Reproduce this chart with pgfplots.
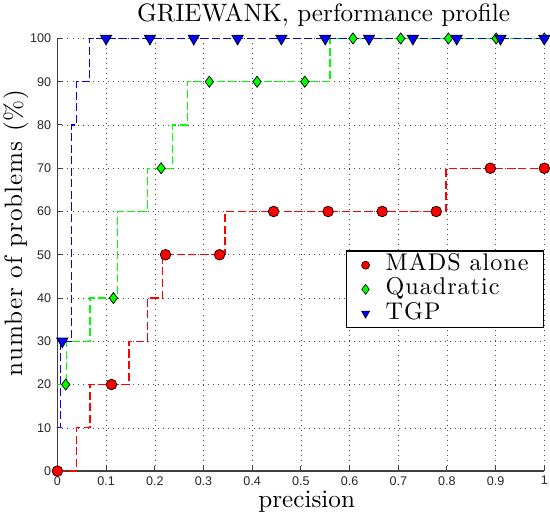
\documentclass[border=0pt]{standalone}
\usepackage{fontspec}
\setmainfont{lmroman10-regular.otf}
\newfontfamily\legfont{lmroman10-regular.otf}[LetterSpace=4]
\newfontfamily\tickfont{Liberation Sans}
\usepackage{pgfplots}
\pgfplotsset{compat=1.18}

\definecolor{axgray}{gray}{0.25}
\definecolor{mred}{rgb}{1,0,0}
\definecolor{mgreen}{rgb}{0,1,0}
\definecolor{mblue}{rgb}{0,0,1}

\pgfplotsset{
    stepline/.style={const plot, draw=#1, line width=1.2pt,
        dash pattern=on 8pt off 3.5pt, mark=none, forget plot},
}

\begin{document}
\begin{tikzpicture}
\begin{axis}[
    scale only axis,
    width=484pt,
    height=430pt,
    xmin=0, xmax=1,
    ymin=0, ymax=100,
    axis x line*=bottom,
    axis y line*=left,
    axis line style={line width=1.5pt, color=axgray},
    xtick={0,0.1,0.2,0.3,0.4,0.5,0.6,0.7,0.8,0.9,1},
    xticklabels={0,0.1,0.2,0.3,0.4,0.5,0.6,0.7,0.8,0.9,1},
    ytick={0,10,...,100},
    tick align=inside,
    major tick length=5pt,
    tick style={line width=1pt, color=axgray},
    /pgf/number format/assume math mode=true,
    ticklabel style={font=\tickfont\fontsize{12.5}{14}\selectfont, color=black!85, inner sep=0pt},
    xticklabel style={yshift=-5pt},
    yticklabel style={xshift=-6pt},
    grid=major,
    major grid style={black!70, line width=0.6pt, dash pattern=on 0.6pt off 4.4pt},
    title={GRIEWANK, performance profile},
    title style={at={(axis description cs:0.5465,1.0256)}, anchor=base, font=\fontsize{25}{28}\selectfont},
    xlabel={precision},
    xlabel style={at={(axis description cs:0.512,-0.085)}, anchor=base, font=\fontsize{25}{28}\selectfont},
    ylabel={number of problems (\%)},
    ylabel style={at={(axis description cs:-0.0723,0.551)}, anchor=base, rotate=0, font=\legfont\fontsize{25}{28}\selectfont},
    legend style={at={(axis description cs:1,0.51)}, anchor=north east, xshift=0pt,
        draw=black, line width=1.3pt, fill=white,
        inner xsep=15pt, inner ysep=3pt,
        column sep=16pt, row sep=2pt,
        font=\legfont\fontsize{24}{26}\selectfont,
        nodes={inner sep=0pt, text height=16.5pt, text depth=5.5pt}},
    legend cell align=left,
]
% step curves
\addplot[stepline=mred] coordinates {
    (0,0) (0.039,10) (0.067,20) (0.147,30) (0.185,40) (0.216,50) (0.344,60) (0.798,70) (1,70)};
\addplot[stepline=mgreen] coordinates {
    (0,20) (0.0186,30) (0.067,40) (0.123,60) (0.185,70) (0.237,80) (0.267,90) (0.56,100) (1,100)};
\addplot[stepline=mblue] coordinates {
    (0,10) (0.006,30) (0.029,80) (0.039,90) (0.066,100) (1,100)};
% markers
\addplot[only marks, mark=*, mark size=5.3pt, mark options={fill=mred, draw=black, line width=0.7pt, solid}, forget plot] coordinates {
    (0,0) (0.111,20) (0.222,50) (0.333,50) (0.444,60) (0.556,60) (0.667,60) (0.778,60) (0.889,70) (1,70)};
\addplot[only marks, mark=diamond*, mark size=5.5pt, mark options={fill=mgreen, draw=black, line width=0.7pt, solid}, forget plot] coordinates {
    (0.017,20) (0.115,40) (0.213,70) (0.312,90) (0.410,90) (0.508,90) (0.607,100) (0.705,100) (0.803,100) (0.901,100) (1,100)};
\addplot[only marks, mark=triangle*, mark size=6.5pt, mark options={rotate=180, fill=mblue, draw=black, line width=0.7pt, solid}, forget plot] coordinates {
    (0.01,30) (0.1,100) (0.19,100) (0.28,100) (0.37,100) (0.46,100) (0.55,100) (0.64,100) (0.73,100) (0.82,100) (0.91,100) (1,100)};
% legend entries
\addlegendimage{only marks, mark=*, mark size=4pt, mark options={fill=mred, draw=black, line width=0.6pt}}
\addlegendentry{MADS alone}
\addlegendimage{only marks, mark=diamond*, mark size=5pt, mark options={fill=mgreen, draw=black, line width=0.6pt}}
\addlegendentry{Quadratic}
\addlegendimage{only marks, mark=triangle*, mark size=4.6pt, mark options={rotate=180, fill=mblue, draw=black, line width=0.6pt}}
\addlegendentry{TGP}
\end{axis}
\end{tikzpicture}
\end{document}
